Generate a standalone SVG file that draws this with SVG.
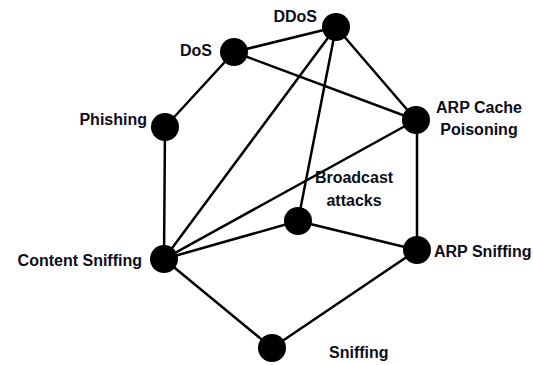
<svg xmlns="http://www.w3.org/2000/svg" width="533" height="365" viewBox="0 0 533 365">
<style>
.edge{stroke:#000;stroke-width:2.5;fill:none;stroke-linecap:round}
.dot{fill:#000}
.lbl{font-family:"Liberation Sans",Arial,sans-serif;font-weight:bold;font-size:16px;fill:#0d0d1a}
</style>
<rect width="533" height="365" fill="#fff"/>
<g id="connectors">
<line class="edge" x1="336" y1="27" x2="234" y2="52"/>
<line class="edge" x1="336" y1="27" x2="416" y2="120"/>
<line class="edge" x1="336" y1="27" x2="164" y2="259"/>
<line class="edge" x1="336" y1="27" x2="298" y2="221"/>
<line class="edge" x1="234" y1="52" x2="165" y2="127"/>
<line class="edge" x1="234" y1="52" x2="416" y2="120"/>
<line class="edge" x1="165" y1="127" x2="164" y2="259"/>
<line class="edge" x1="417" y1="120" x2="417" y2="250"/>
<line class="edge" x1="416" y1="120" x2="164" y2="259"/>
<line class="edge" x1="298" y1="221" x2="164" y2="259"/>
<line class="edge" x1="298" y1="221" x2="417" y2="250"/>
<line class="edge" x1="164" y1="259" x2="272" y2="348"/>
<line class="edge" x1="272" y1="348" x2="417" y2="250"/>
</g>
<g id="ddos"><circle class="dot" cx="336" cy="27" r="14"/><text class="lbl" x="317" y="22" text-anchor="end">DDoS</text></g>
<g id="dos"><circle class="dot" cx="234" cy="52" r="14"/><text class="lbl" x="212" y="56" text-anchor="end">DoS</text></g>
<g id="phishing"><circle class="dot" cx="165" cy="127" r="14"/><text class="lbl" x="147" y="125" text-anchor="end">Phishing</text></g>
<g id="arp-cache"><circle class="dot" cx="416" cy="120" r="14"/><text class="lbl" x="479" y="113" text-anchor="middle">ARP Cache</text><text class="lbl" x="479" y="135" text-anchor="middle">Poisoning</text></g>
<g id="broadcast"><circle class="dot" cx="298" cy="221" r="14"/><text class="lbl" x="354" y="183" text-anchor="middle">Broadcast</text><text class="lbl" x="354" y="206" text-anchor="middle">attacks</text></g>
<g id="content-sniffing"><circle class="dot" cx="164" cy="259" r="14"/><text class="lbl" x="142" y="266" text-anchor="end">Content Sniffing</text></g>
<g id="arp-sniffing"><circle class="dot" cx="417" cy="250" r="14"/><text class="lbl" x="434" y="257">ARP Sniffing</text></g>
<g id="sniffing"><circle class="dot" cx="272" cy="348" r="14"/><text class="lbl" x="329" y="358">Sniffing</text></g>
</svg>
